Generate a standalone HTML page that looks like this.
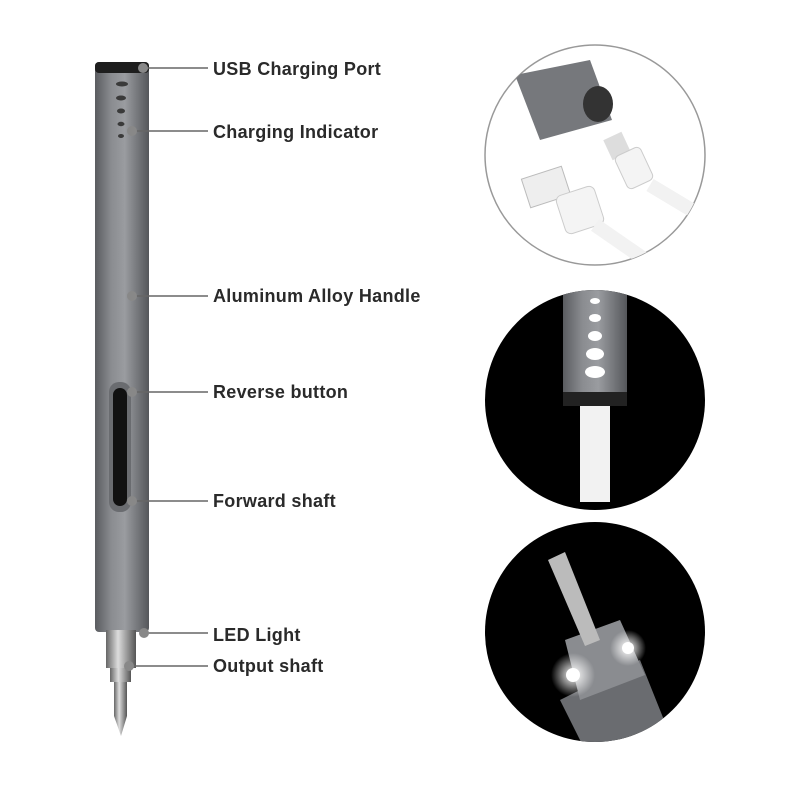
<!DOCTYPE html>
<html><head><style>
html,body{margin:0;padding:0;background:#fff;width:800px;height:800px;overflow:hidden}
text{font-family:"Liberation Sans",sans-serif;font-size:18px;font-weight:bold;letter-spacing:0.3px;fill:#2a2a2a}
</style></head><body>
<svg width="800" height="800" viewBox="0 0 800 800" xmlns="http://www.w3.org/2000/svg">
<defs>
<linearGradient id="body" x1="0" x2="1" y1="0" y2="0">
<stop offset="0" stop-color="#5a5c60"/><stop offset="0.3" stop-color="#8a8c90"/><stop offset="0.55" stop-color="#9a9ca0"/><stop offset="1" stop-color="#55575b"/>
</linearGradient>
<linearGradient id="steel" x1="0" x2="1" y1="0" y2="0">
<stop offset="0" stop-color="#666"/><stop offset="0.4" stop-color="#ddd"/><stop offset="1" stop-color="#555"/>
</linearGradient>
<radialGradient id="glow" cx="0.5" cy="0.5" r="0.5">
<stop offset="0" stop-color="#fff"/><stop offset="1" stop-color="#fff" stop-opacity="0"/>
</radialGradient>
<clipPath id="c1"><circle cx="595" cy="155" r="110"/></clipPath>
<clipPath id="c2"><circle cx="595" cy="400" r="110"/></clipPath>
<clipPath id="c3"><circle cx="595" cy="632" r="110"/></clipPath>
</defs>
<rect x="95" y="62" width="54" height="570" rx="4" fill="url(#body)"/>
<rect x="95" y="62" width="54" height="11" rx="4" fill="#1e1e1e"/>
<g fill="#3a3a3a"><ellipse cx="122" cy="84" rx="6" ry="2.5"/><ellipse cx="121" cy="98" rx="5" ry="2.5"/><ellipse cx="121" cy="111" rx="4" ry="2.5"/><ellipse cx="121" cy="124" rx="3.5" ry="2.2"/><ellipse cx="121" cy="136" rx="3" ry="2"/></g>
<rect x="109" y="382" width="22" height="130" rx="10" fill="#6a6c70"/>
<rect x="113" y="388" width="14" height="118" rx="7" fill="#111"/>
<rect x="106" y="630" width="30" height="38" fill="url(#steel)"/>
<rect x="110" y="668" width="21" height="14" fill="url(#steel)"/>
<path d="M114 682 H127 V716 L121 736 L114 716 Z" fill="url(#steel)"/>
<g stroke="#666" stroke-width="1.5">
<line x1="143" y1="68" x2="208" y2="68"/><line x1="132" y1="131" x2="208" y2="131"/>
<line x1="132" y1="296" x2="208" y2="296"/><line x1="132" y1="392" x2="208" y2="392"/>
<line x1="132" y1="501" x2="208" y2="501"/><line x1="144" y1="633" x2="208" y2="633"/>
<line x1="129" y1="666" x2="208" y2="666"/></g>
<g fill="#888"><circle cx="143" cy="68" r="5"/><circle cx="132" cy="131" r="5"/><circle cx="132" cy="296" r="5"/><circle cx="132" cy="392" r="5"/><circle cx="132" cy="501" r="5"/><circle cx="144" cy="633" r="5"/><circle cx="129" cy="666" r="5"/></g>
<text x="213" y="75">USB Charging Port</text>
<text x="213" y="138">Charging Indicator</text>
<text x="213" y="302">Aluminum Alloy Handle</text>
<text x="213" y="398">Reverse button</text>
<text x="213" y="507">Forward shaft</text>
<text x="213" y="641">LED Light</text>
<text x="213" y="672">Output shaft</text>
<circle cx="595" cy="155" r="110" fill="#fff" stroke="#999" stroke-width="1.5"/>
<g clip-path="url(#c1)">
<path d="M515 75 L590 60 L612 120 L540 140 Z" fill="#76787c"/>
<ellipse cx="598" cy="104" rx="15" ry="18" fill="#333"/>
<rect x="525" y="172" width="42" height="30" fill="#eee" stroke="#bbb" transform="rotate(-18 546 187)"/>
<rect x="560" y="190" width="40" height="40" rx="6" fill="#f4f4f4" stroke="#ccc" transform="rotate(-18 580 210)"/>
<path d="M595 225 L660 270" stroke="#f2f2f2" stroke-width="14"/>
<rect x="607" y="135" width="20" height="22" fill="#ddd" transform="rotate(-25 617 146)"/>
<rect x="620" y="150" width="28" height="36" rx="5" fill="#f4f4f4" stroke="#ccc" transform="rotate(-25 634 168)"/>
<path d="M650 185 L700 215" stroke="#f2f2f2" stroke-width="14"/>
</g>
<circle cx="595" cy="400" r="110" fill="#000"/>
<g clip-path="url(#c2)">
<rect x="563" y="280" width="64" height="112" fill="url(#body)"/>
<rect x="563" y="392" width="64" height="14" fill="#222"/>
<g fill="#fff"><ellipse cx="595" cy="301" rx="5" ry="3"/><ellipse cx="595" cy="318" rx="6" ry="4"/><ellipse cx="595" cy="336" rx="7" ry="5"/><ellipse cx="595" cy="354" rx="9" ry="6"/><ellipse cx="595" cy="372" rx="10" ry="6"/></g>
<rect x="580" y="406" width="30" height="96" fill="#f2f2f2"/>
</g>
<circle cx="595" cy="632" r="110" fill="#000"/>
<g clip-path="url(#c3)">
<path d="M560 700 L640 660 L680 760 L590 760 Z" fill="#6a6c70"/>
<path d="M565 640 L620 620 L645 675 L580 700 Z" fill="#8a8c90"/>
<path d="M548 560 L565 552 L600 640 L585 646 Z" fill="#bbb"/>
<circle cx="573" cy="675" r="22" fill="url(#glow)"/>
<circle cx="628" cy="648" r="18" fill="url(#glow)"/>
<circle cx="573" cy="675" r="7" fill="#fff"/>
<circle cx="628" cy="648" r="6" fill="#fff"/>
</g>
</svg>
</body></html>
